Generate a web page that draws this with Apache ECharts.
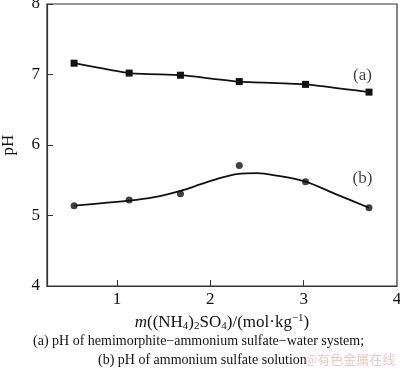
<!DOCTYPE html>
<html><head><meta charset="utf-8">
<script src="https://cdn.jsdelivr.net/npm/echarts@6/dist/echarts.min.js"></script>
<style>html,body{margin:0;padding:0;background:#fff}#c{width:400px;height:373px}</style>
</head><body><div id="c"></div>
<script>
// data
const xA = [0.54, 1.13, 1.68, 2.31, 3.02, 3.70];
const yA = [7.16, 7.02, 6.99, 6.90, 6.86, 6.75];
const xB = [0.54, 1.13, 1.68, 2.31, 3.02, 3.70];
const yB = [5.14, 5.22, 5.31, 5.71, 5.48, 5.11];
// fitted curve for (b)
const fitX = [0.54, 1.13, 1.40, 1.68, 1.89, 2.10, 2.30, 2.50, 2.69, 3.02, 3.35, 3.70];
const fitY = [5.14, 5.21, 5.26, 5.35, 5.44, 5.53, 5.59, 5.60, 5.57, 5.48, 5.30, 5.11];
const xTickLabels = [1, 2, 3, 4];
const xTicks = [1, 2, 3];
const yRange = [4, 8];
const xRange = [0.25, 4];
const labelPts = [[3.63, 6.98, '(a)'], [3.63, 5.52, '(b)']];

const serif = '"Liberation Serif", "DejaVu Serif", serif';
const pair = (xs, ys) => xs.map((x, i) => [x, ys[i]]);

const chart = echarts.init(document.getElementById('c'));
chart.setOption({
  animation: false,
  backgroundColor: '#fff',
  grid: { left: 47, top: 4, right: 3, bottom: 87, containLabel: false, outerBoundsMode: 'none',
          show: true, borderColor: '#333', borderWidth: 1.2 },
  xAxis: {
    type: 'value', min: xRange[0], max: xRange[1],
    axisLine: { lineStyle: { color: '#333', width: 1.2 } },
    axisTick: { inside: true, length: 6, customValues: xTicks, lineStyle: { color: '#333' } },
    axisLabel: { customValues: xTickLabels, color: '#111', fontFamily: serif, fontSize: 17, margin: 5 },
    splitLine: { show: false },
    name: '{i|m}{n|((NH}{s|4}{n|)}{s|2}{n|SO}{s|4}{n|)/(mol·kg}{p|−1}{n|)}',
    nameLocation: 'middle', nameGap: 25,
    nameTextStyle: {
      rich: {
        i: { fontFamily: serif, fontSize: 17, fontStyle: 'italic', color: '#111' },
        n: { fontFamily: serif, fontSize: 17, color: '#111' },
        s: { fontFamily: serif, fontSize: 11, color: '#111', verticalAlign: 'bottom', padding: [8, 0, 0, 0] },
        p: { fontFamily: serif, fontSize: 11, color: '#111', verticalAlign: 'top', padding: [0, 0, 8, 0] }
      }
    }
  },
  yAxis: {
    type: 'value', min: yRange[0], max: yRange[1], interval: 1,
    axisLine: { show: true, lineStyle: { color: '#333', width: 1.2 } },
    axisTick: { show: true, inside: true, length: 6, lineStyle: { color: '#333' } },
    axisLabel: { color: '#111', fontFamily: serif, fontSize: 17, margin: 7 },
    splitLine: { show: false },
    name: 'pH', nameLocation: 'middle', nameGap: 30, nameRotate: 90,
    nameTextStyle: { fontFamily: serif, fontSize: 17, color: '#111' }
  },
  series: [
    {
      type: 'line', data: pair(xA, yA), smooth: 0.15,
      symbol: 'rect', symbolSize: 7,
      lineStyle: { color: '#111', width: 1.8 }, itemStyle: { color: '#111' }
    },
    {
      type: 'line', data: pair(fitX, fitY), smooth: 0.3, showSymbol: false, symbol: 'none',
      lineStyle: { color: '#111', width: 1.8 }
    },
    {
      type: 'scatter', data: pair(xB, yB), symbol: 'circle', symbolSize: 7,
      itemStyle: { color: '#111' }
    },
    {
      type: 'scatter', data: labelPts, symbolSize: 1, itemStyle: { color: 'rgba(0,0,0,0)' },
      label: { show: true, position: 'inside', formatter: p => p.data[2], fontFamily: serif, fontSize: 17, color: '#111' }
    }
  ],
  graphic: [
    { type: 'text', left: 33, top: 334, style: { text: '(a) pH of hemimorphite−ammonium sulfate−water system;', font: '14px ' + serif, fill: '#111' } },
    { type: 'text', left: 98, top: 353, style: { text: '(b) pH of ammonium sulfate solution', font: '14px ' + serif, fill: '#111' } },
    { type: 'text', left: 305, top: 353, style: { text: '@有色金属在线', font: '13px "Noto Sans CJK SC", sans-serif', fill: '#f3c6c6' } }
  ]
});
</script></body></html>
